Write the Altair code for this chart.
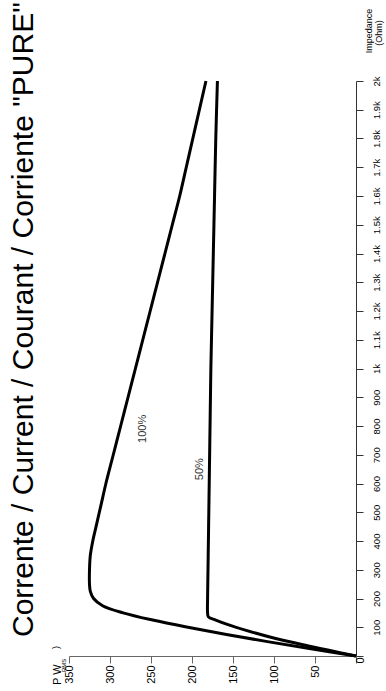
import altair as alt
import pandas as pd

# Output power (W RMS) against load impedance (ohm), "PURE" current mode
imp_full = [0, 25, 50, 75, 100, 125, 150, 175, 200, 225, 250, 300, 350, 400, 450,
            500, 550, 600, 700, 800, 900, 1000, 1100, 1200, 1300, 1400, 1500,
            1600, 1700, 1800, 1900, 2000]
pow_full = [0, 55, 108, 158, 205, 248, 284, 309, 320, 324, 325, 325, 324, 321, 317,
            313, 309, 305, 296, 287, 278, 269, 260, 251, 242, 233, 224,
            215, 207, 199, 191, 183]

imp_half = [0, 20, 40, 66, 90, 110, 125, 136, 150, 200, 300, 400, 500, 600, 700,
            800, 900, 1000, 1200, 1400, 1600, 1800, 2000]
pow_half = [0, 33, 66, 105, 135, 157, 171, 180, 181, 181, 180.5, 180, 179.5, 179, 178.5,
            178, 177.5, 177, 175.5, 174, 172.5, 171, 169]

imp_ticks = list(range(0, 2001, 100))
pow_ticks = list(range(0, 351, 50))

label_text = ["100%", "50%"]
label_pow = [260, 190]
label_imp = [790, 650]

curves = pd.concat([
    pd.DataFrame({"curve": "100%", "Z": imp_full, "P": pow_full}),
    pd.DataFrame({"curve": "50%", "Z": imp_half, "P": pow_half}),
])
labels = pd.DataFrame({"t": label_text, "P": label_pow, "Z": label_imp})

W, H = 287, 575
FONT = "Liberation Sans"

x_scale = alt.Scale(domain=[0, 350], reverse=True, nice=False, zero=True)
y_scale = alt.Scale(domain=[0, 2000], nice=False)

x_axis = alt.Axis(orient="bottom", values=pow_ticks, title=None, grid=False,
                  labelAngle=270, labelAlign="right", labelBaseline="middle",
                  labelFontSize=11, labelFont=FONT, labelColor="black",
                  labelOverlap=False,
                  tickSize=7, labelPadding=2, domainColor="#666", tickColor="#666",
                  labelExpr="datum.value == 0 ? '' : datum.label")
y_axis = alt.Axis(orient="right", values=imp_ticks, title=None, grid=False,
                  labelAngle=270, labelAlign="center", labelBaseline="top",
                  labelFontSize=9.5, labelFont=FONT, labelColor="black",
                  labelOverlap=False,
                  tickSize=7, labelPadding=8, domainColor="#333", tickColor="#333",
                  labelExpr="datum.value == 0 ? '' : (datum.value >= 1000 ? (datum.value / 1000) + 'k' : datum.label)")

lines = alt.Chart(curves).mark_line(
    color="black", strokeWidth=3, strokeJoin="round", interpolate="catmull-rom"
).encode(
    x=alt.X("P:Q", scale=x_scale, axis=x_axis),
    y=alt.Y("Z:Q", scale=y_scale, axis=y_axis),
    detail="curve:N",
    order="Z:Q",
)

pct = alt.Chart(labels).mark_text(angle=270, font=FONT, fontSize=11, color="#333").encode(
    x=alt.X("P:Q", scale=x_scale, axis=x_axis),
    y=alt.Y("Z:Q", scale=y_scale, axis=y_axis),
    text="t:N",
)

one = pd.DataFrame({"k": [0]})


def free_text(txt, x, y, size, align="left", baseline="alphabetic"):
    return alt.Chart(one).mark_text(
        text=txt, angle=270, font=FONT, fontSize=size, color="black",
        align=align, baseline=baseline,
    ).encode(x=alt.value(x), y=alt.value(y))


title = free_text('Corrente / Current / Courant / Corriente "PURE"', -36, 556, 30)
p_title = free_text("P W", -8, 604, 11)
p_sub = free_text("RMS", -3, 591, 6)
p_close = free_text(")", -10, 568, 9)
z_title1 = free_text("Impedance", 303, -50, 9, align="center")
z_title2 = free_text("(Ohm)", 313, -48, 9, align="center")
zero = free_text("0", 291.5, 579.5, 11, align="center", baseline="middle")

chart = alt.layer(
    lines, pct, title, p_title, p_sub, p_close, z_title1, z_title2, zero
).properties(
    width=W, height=H,
    padding={"left": 69, "top": 81, "right": 30, "bottom": 35},
    autosize=alt.AutoSizeParams(type="none"),
    background="white",
).configure_view(stroke=None).configure_axis(labelOverlap=False)

chart.save("out.html", embed_options={"renderer": "svg", "actions": False})
